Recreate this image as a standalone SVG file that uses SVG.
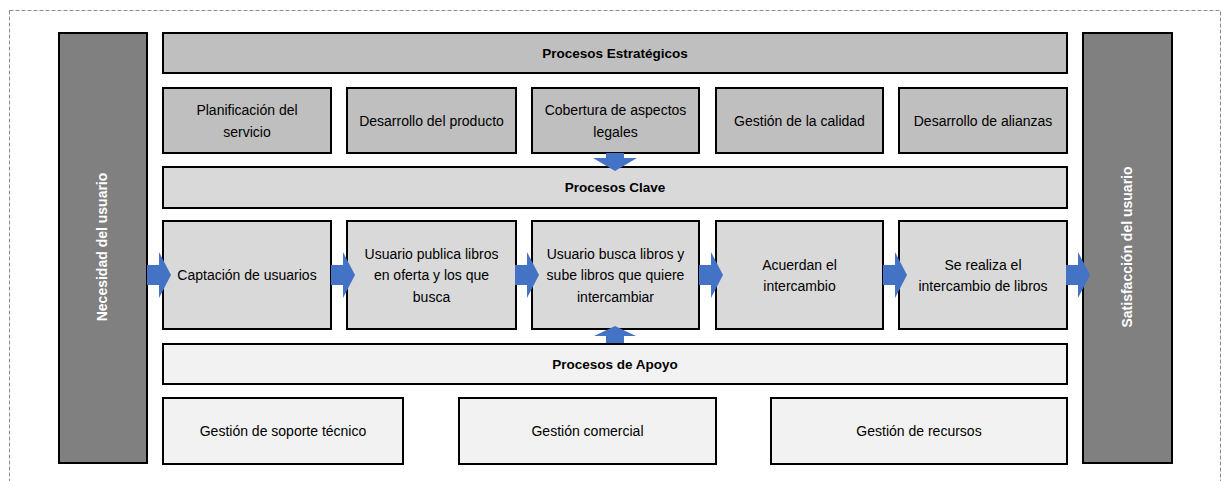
<svg xmlns="http://www.w3.org/2000/svg" xmlns:xlink="http://www.w3.org/1999/xlink" width="1222" height="481" viewBox="0 0 1222 481">
<style>
.box{stroke:#000;stroke-width:2}
.dark{fill:#808080}
.s1{fill:#bfbfbf}
.s2{fill:#d9d9d9}
.s3{fill:#f2f2f2}
.t{font-family:"Liberation Sans",Arial,sans-serif;font-size:14px;fill:#000;text-anchor:middle}
.b{font-family:"Liberation Sans",Arial,sans-serif;font-size:13.5px;font-weight:bold;fill:#000;text-anchor:middle}
.v{font-family:"Liberation Sans",Arial,sans-serif;font-size:14px;font-weight:bold;fill:#fff;text-anchor:middle}
.arrow{fill:#4472c4}
</style>
<defs>
<polygon id="ah" points="0,-10 12,-10 12,-23 24,0 12,23 12,10 0,10"/>
</defs>
<rect x="9.5" y="10.5" width="1211" height="480" fill="none" stroke="#8c8c8c" stroke-width="1" stroke-dasharray="4,2"/>
<g id="necesidad"><rect class="box dark" x="59" y="33" width="88" height="430"/><text class="v" transform="translate(107,247) rotate(-90)">Necesidad del usuario</text></g>
<g id="satisfaccion"><rect class="box dark" x="1083" y="33" width="89" height="430"/><text class="v" transform="translate(1132,247) rotate(-90)">Satisfacción del usuario</text></g>
<g id="estrategicos"><rect class="box s1" x="163" y="33" width="904" height="40"/><text class="b" x="615" y="58">Procesos Estratégicos</text></g>
<g id="planificacion"><rect class="box s1" x="163" y="88" width="168" height="65"/><text class="t" x="247" y="115">Planificación del</text><text class="t" x="247" y="137">servicio</text></g>
<g id="desarrollo-producto"><rect class="box s1" x="347" y="88" width="169" height="65"/><text class="t" x="431.5" y="126">Desarrollo del producto</text></g>
<g id="cobertura"><rect class="box s1" x="532" y="88" width="167" height="65"/><text class="t" x="615.5" y="115">Cobertura de aspectos</text><text class="t" x="615.5" y="137">legales</text></g>
<g id="calidad"><rect class="box s1" x="716" y="88" width="167" height="65"/><text class="t" x="799.5" y="126">Gestión de la calidad</text></g>
<g id="alianzas"><rect class="box s1" x="899" y="88" width="168" height="65"/><text class="t" x="983" y="126">Desarrollo de alianzas</text></g>
<g id="clave"><rect class="box s2" x="163" y="167" width="904" height="41"/><text class="b" x="615" y="192">Procesos Clave</text></g>
<g id="captacion"><rect class="box s2" x="163" y="221" width="168" height="108"/><text class="t" x="247" y="280">Captación de usuarios</text></g>
<g id="publica"><rect class="box s2" x="347" y="221" width="169" height="108"/><text class="t" x="431.5" y="259">Usuario publica libros</text><text class="t" x="431.5" y="280">en oferta y los que</text><text class="t" x="431.5" y="302">busca</text></g>
<g id="busca"><rect class="box s2" x="532" y="221" width="167" height="108"/><text class="t" x="615.5" y="259">Usuario busca libros y</text><text class="t" x="615.5" y="280">sube libros que quiere</text><text class="t" x="615.5" y="302">intercambiar</text></g>
<g id="acuerdan"><rect class="box s2" x="716" y="221" width="167" height="108"/><text class="t" x="799.5" y="270">Acuerdan el</text><text class="t" x="799.5" y="291">intercambio</text></g>
<g id="realiza"><rect class="box s2" x="899" y="221" width="168" height="108"/><text class="t" x="983" y="270">Se realiza el</text><text class="t" x="983" y="291">intercambio de libros</text></g>
<g id="apoyo"><rect class="box s3" x="163" y="344" width="904" height="40"/><text class="b" x="615" y="369">Procesos de Apoyo</text></g>
<g id="soporte"><rect class="box s3" x="163" y="398" width="240" height="66"/><text class="t" x="283" y="436">Gestión de soporte técnico</text></g>
<g id="comercial"><rect class="box s3" x="459" y="398" width="257" height="66"/><text class="t" x="587.5" y="436">Gestión comercial</text></g>
<g id="recursos"><rect class="box s3" x="771" y="398" width="296" height="66"/><text class="t" x="919" y="436">Gestión de recursos</text></g>
<g id="connectors" class="arrow">
<use xlink:href="#ah" transform="translate(147,275)"/>
<use xlink:href="#ah" transform="translate(331,275)"/>
<use xlink:href="#ah" transform="translate(515,275)"/>
<use xlink:href="#ah" transform="translate(699,275)"/>
<use xlink:href="#ah" transform="translate(883,275)"/>
<use xlink:href="#ah" transform="translate(1066,275)"/>
<polygon points="606,153 624,153 624,158 637,158 615,171 593,158 606,158"/>
<polygon points="606,343 624,343 624,336 636,336 615,326 594,336 606,336"/>
</g>
</svg>
